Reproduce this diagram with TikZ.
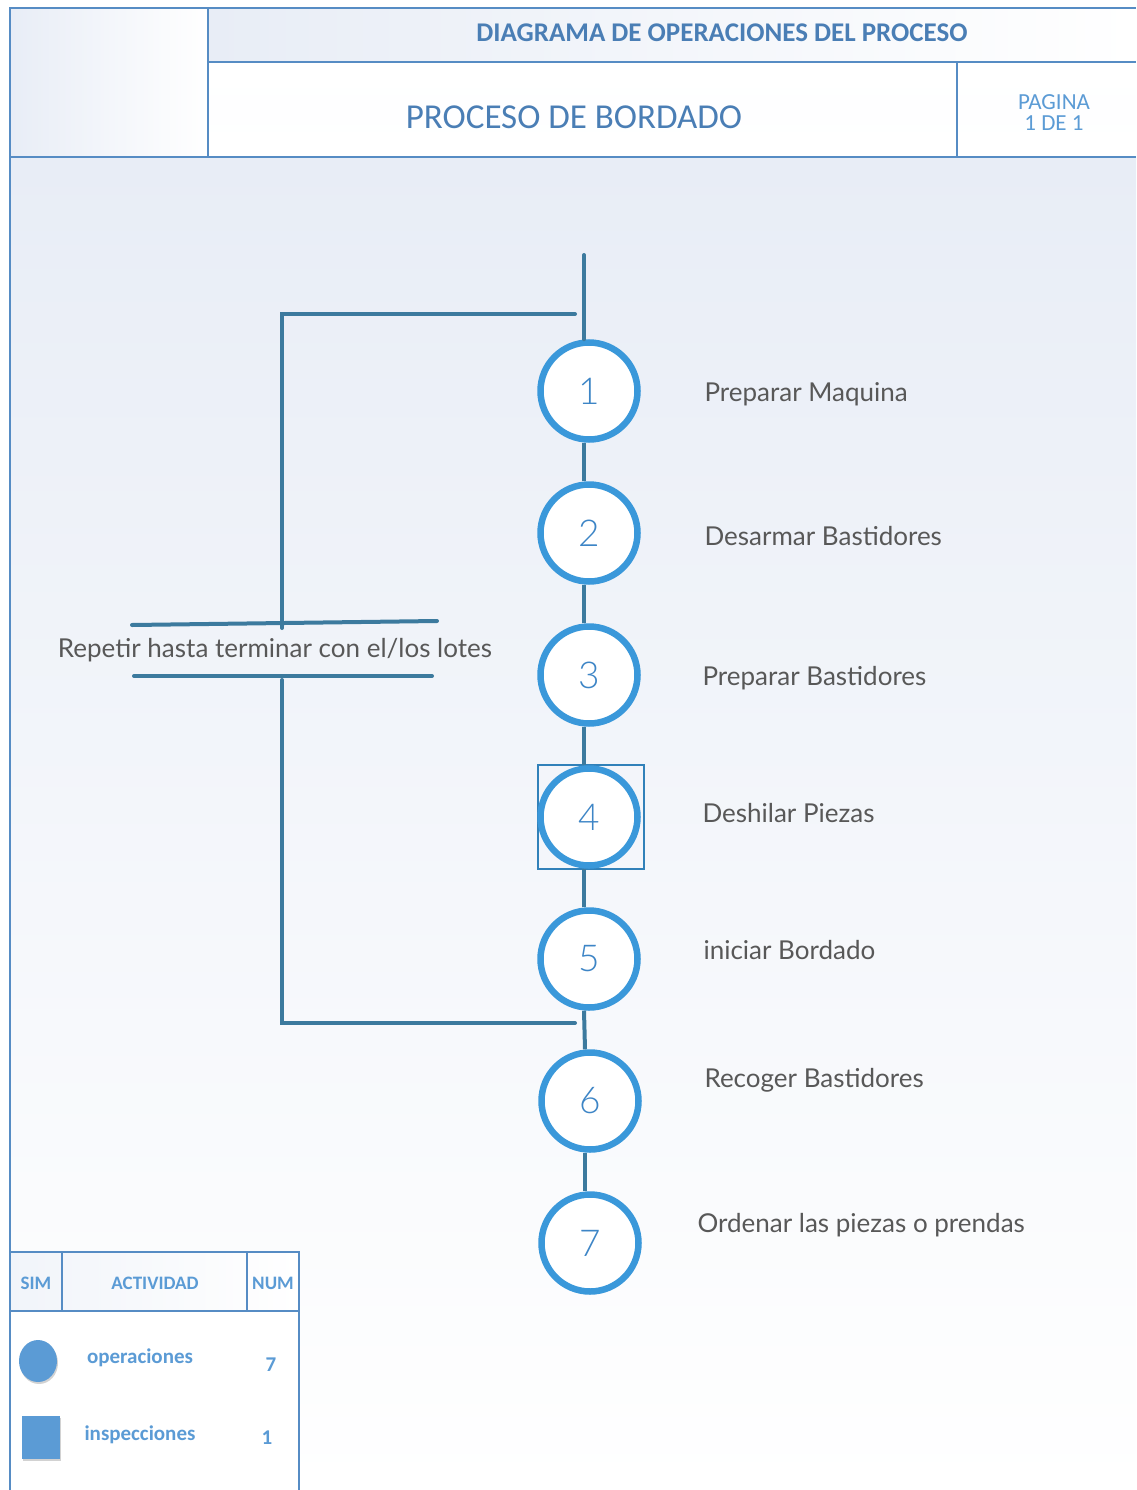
\documentclass[tikz,border=0pt]{standalone}
\usepackage{fontspec}
\setmainfont{Lato}
\newfontfamily\carl{Carlito}
\newfontfamily\lathin{Lato Light}
\usetikzlibrary{shadows,shapes.geometric}
\definecolor{frame}{RGB}{86,140,196}
\definecolor{ring}{RGB}{58,152,218}
\definecolor{link}{RGB}{60,122,158}
\definecolor{numcol}{RGB}{61,133,198}
\definecolor{titlecol}{RGB}{74,126,181}
\definecolor{legcol}{RGB}{91,155,213}
\definecolor{labelcol}{RGB}{88,88,88}
\definecolor{bgtop}{RGB}{232,237,246}
\newcommand{\fs}[1]{\fontsize{#1}{#1}\selectfont}
\tikzset{
  op/.style={circle, draw=ring, line width=6.5pt, fill=white, minimum size=97pt, inner sep=0pt,
    text=numcol, font=\lathin\fs{37}},
  steplabel/.style={anchor=west, text=labelcol, font=\fs{26}},
  conn/.style={draw=link, line width=4pt},
  loopline/.style={draw=link, line width=4pt, line cap=round},
  rule/.style={draw=frame, line width=1.2pt},
  leghead/.style={text=legcol, font=\carl\bfseries\fs{19}},
  legtext/.style={text=legcol, font=\carl\bfseries\fs{21}},
}
\begin{document}
\begin{tikzpicture}[x=1pt, y=-1pt]
\useasboundingbox (0,0) rectangle (1136,1490);
\fill[white] (0,0) rectangle (1136,1490);
% header cells and body background
\shade[left color=bgtop, right color=white] (10,8) rectangle (208,157);
\shade[left color=bgtop, right color=white] (208,8) rectangle (1136,62);
\shade[top color=white, bottom color=white, middle color=white!96!bgtop] (208,62) rectangle (1136,157);
\shade[top color=bgtop, bottom color=white] (10,157) rectangle (1136,1490);

% frame lines
\draw[rule] (10,1490) -- (10,8) -- (1136,8);
\draw[rule] (208,8) -- (208,157);
\draw[rule] (208,62) -- (1136,62);
\draw[rule] (957,62) -- (957,157);
\draw[rule, line width=2pt] (10,157) -- (1136,157);

% header texts
\node[text=titlecol, font=\carl\bfseries\fs{27}] (title) at (722,33) {DIAGRAMA DE OPERACIONES DEL PROCESO};
\node[text=titlecol, font=\carl\fs{35}] (proc) at (574,117) {PROCESO DE BORDADO};
\node[text=legcol, font=\carl\fs{23}, align=center, inner sep=0pt] (page) at (1054,113) {PAGINA\\[-2pt]1 DE 1};

% inspection frame behind operation 4
\draw[draw=ring!85!black, line width=1.5pt] (538,765) rectangle (644,869);

% operations
\node[op] (c1) at (589,391) {1};
\node[op] (c2) at (589,533) {2};
\node[op] (c3) at (589,675) {3};
\node[op] (c4) at (589,817) {4};
\node[op] (c5) at (589,959) {5};
\node[op] (c6) at (590,1101) {6};
\node[op] (c7) at (590,1243) {7};

% vertical flow
\coordinate (start) at (584,255);
\draw[conn, line cap=round] (start) -- ([xshift=-5pt]c1.north);
\foreach \a/\b in {c1/c2, c2/c3, c3/c4, c4/c5, c5/c6, c6/c7}
  \draw[conn] ([xshift=-5pt]\a.south) -- ([xshift=-5pt]\b.north);

% step labels
\node[steplabel] (l1) at (701,394) {Preparar Maquina};
\node[steplabel] (l2) at (701,536) {Desarmar Bastidores};
\node[steplabel] (l3) at (699,678) {Preparar Bastidores};
\node[steplabel] (l4) at (699,813) {Deshilar Piezas};
\node[steplabel] (l5) at (700,950) {iniciar Bordado};
\node[steplabel] (l6) at (701,1080) {Recoger Bastidores};
\node[steplabel] (l7) at (694,1225) {Ordenar las piezas o prendas};

% repetition loop
\coordinate (ltop) at (575,314);
\coordinate (lbot) at (575,1023);
\coordinate (bar1a) at (132,625);
\coordinate (bar1b) at (437,621);
\coordinate (bar2a) at (134,676);
\coordinate (bar2b) at (432,676);
\draw[loopline] (ltop) -- (282,314) -- (282,628);
\draw[loopline] (bar1a) -- (bar1b);
\draw[loopline] (bar2a) -- (bar2b);
\draw[loopline] (282,680) -- (282,1023) -- (lbot);
\node[text=labelcol, font=\fs{26}] (rep) at (275,650) {Repetir hasta terminar con el/los lotes};

% legend table
\fill[white] (10,1252) rectangle (299,1490);
\shade[left color=bgtop!60, right color=white] (10,1252) rectangle (299,1311);
\draw[rule] (10,1490) -- (10,1252) -- (299,1252) -- (299,1490);
\draw[rule] (10,1311) -- (299,1311);
\draw[rule] (62,1252) -- (62,1311);
\draw[rule] (247,1252) -- (247,1311);
\node[leghead] (hsim) at (36,1283) {SIM};
\node[leghead] (hact) at (155,1283) {ACTIVIDAD};
\node[leghead] (hnum) at (273,1283) {NUM};
\node[ellipse, fill=legcol, minimum width=38pt, minimum height=42pt, inner sep=0pt,
  drop shadow={shadow xshift=1pt, shadow yshift=-2pt, opacity=0.35}] (symop) at (38,1361) {};
\node[fill=legcol, minimum width=38pt, minimum height=43pt, inner sep=0pt,
  drop shadow={shadow xshift=1pt, shadow yshift=-2pt, opacity=0.35}] (symin) at (41,1437) {};
\node[legtext] (tope) at (140,1358) {operaciones};
\node[legtext] (nope) at (271,1365) {7};
\node[legtext] (tins) at (140,1435) {inspecciones};
\node[legtext] (nins) at (267,1438) {1};
\end{tikzpicture}
\end{document}
